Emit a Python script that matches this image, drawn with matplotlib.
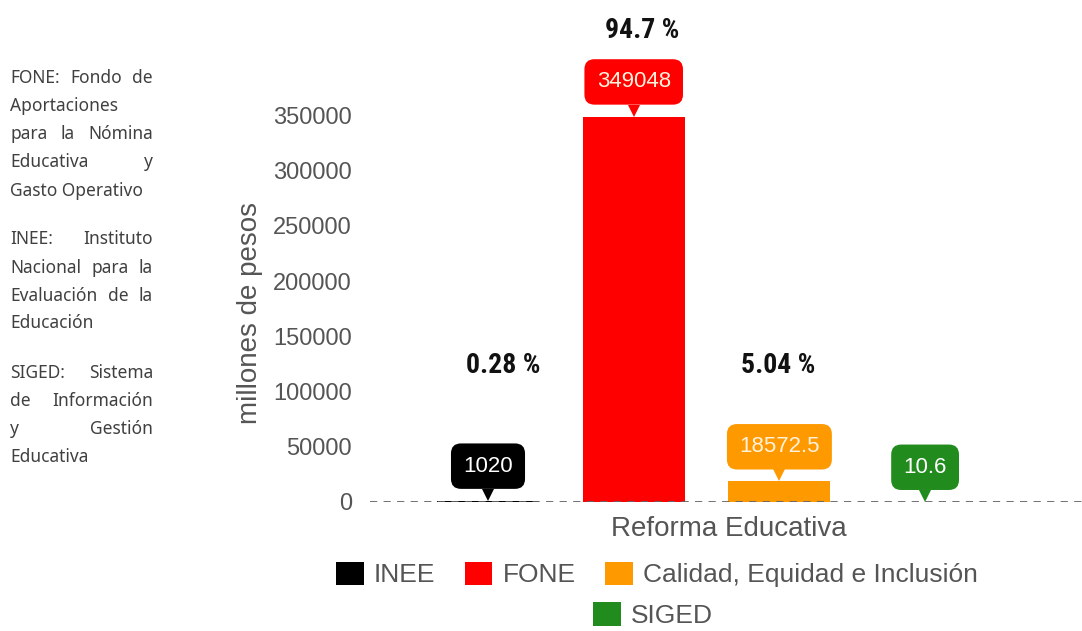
import matplotlib
matplotlib.use("Agg")
import matplotlib.pyplot as plt
import matplotlib.transforms as mtransforms

# ---------------- data ----------------
group = "Reforma Educativa"
categories = ["INEE", "FONE", "Calidad, Equidad e Inclusión", "SIGED"]
values = [1020, 349048, 18572.5, 10.6]
value_labels = ["1020", "349048", "18572.5", "10.6"]
colors = ["#000000", "#ff0000", "#ff9900", "#228b1e"]
label_text_colors = ["#ffffff", "#fff2dc", "#fff2dc", "#ffffff"]
pct_labels = ["0.28 %", "94.7 %", "5.04 %"]
yticks = [0, 50000, 100000, 150000, 200000, 250000, 300000, 350000]
ylabel = "millones de pesos"
notes = [
    [["FONE: Fondo de", True], ["Aportaciones", False], ["para la Nómina", True],
     ["Educativa y", True], ["Gasto Operativo", False]],
    [["INEE: Instituto", True], ["Nacional para la", True], ["Evaluación de la", True],
     ["Educación", False]],
    [["SIGED: Sistema", True], ["de Información", True], ["y Gestión", True],
     ["Educativa", False]],
]

# ---------------- layout ----------------
W, H = 1082, 631
plt.rcParams['font.family'] = ['Liberation Sans', 'DejaVu Sans']
fig = plt.figure(figsize=(W / 100, H / 100), dpi=100)
fig.patch.set_facecolor("white")

ax_left_px, ax_right_px, ax_top_px, ax_bot_px = 370, 1082, 10, 502
ax = fig.add_axes([ax_left_px / W, 1 - ax_bot_px / H,
                   (ax_right_px - ax_left_px) / W, (ax_bot_px - ax_top_px) / H])
px_per_unit_x = 145.7
x0_px = 488
px_per_50k = 55.2
ax.set_xlim((ax_left_px - x0_px) / px_per_unit_x, (ax_right_px - x0_px) / px_per_unit_x)
ax.set_ylim(0, (ax_bot_px - ax_top_px) / px_per_50k * 50000)

xs = list(range(len(categories)))
bar_w = 0.70
for x, v, c, cat in zip(xs, values, colors, categories):
    ax.bar(x, v, width=bar_w, color=c, label=cat, zorder=2)

ax.axhline(0, color="#666666", lw=1.3, ls=(0, (4, 3.5)), zorder=3)

for s in ax.spines.values():
    s.set_visible(False)
ax.set_xticks([])
ax.set_yticks(yticks)
ax.set_yticklabels([str(t) for t in yticks])
ax.tick_params(axis="y", length=0, pad=13, labelsize=17, labelcolor="#555555")
ax.set_ylabel(ylabel, fontsize=20, color="#555555")
ax.yaxis.set_label_coords(-0.150, 0.384)

# value callouts
tri_tr = mtransforms.offset_copy(ax.transData, fig=fig, x=0, y=6, units="dots")
for x, v, lab, c, tc in zip(xs, values, value_labels, colors, label_text_colors):
    ax.annotate(lab, xy=(x, v), xytext=(0, 25), textcoords="offset points",
                ha="center", va="center", fontsize=16, color=tc, zorder=5,
                bbox=dict(boxstyle="round,pad=0.55,rounding_size=0.45", fc=c, ec="none"))
    ax.plot([x], [v], marker="v", markersize=8.6, color=c, markeredgewidth=0,
            transform=tri_tr, zorder=4, clip_on=False)

# percentage labels
pct_pos_px = [(503, 365), (642, 30), (778, 365)]
for lab, (px, py) in zip(pct_labels, pct_pos_px):
    ax.text((px - x0_px) / px_per_unit_x, (ax_bot_px - py) / px_per_50k * 50000, lab,
            ha="center", va="center", fontsize=20, fontweight="bold", color="#111111",
            family=["Roboto Condensed", "Open Sans Condensed", "Liberation Sans Narrow"],
            zorder=5)

# category (x) label
fig.text(729 / W, 1 - 529 / H, group, ha="center", va="center", fontsize=20,
         color="#555555")

# legends
handles, labels = ax.get_legend_handles_labels()
leg_kw = dict(loc="center", bbox_transform=fig.transFigure, frameon=False,
              fontsize=19, labelcolor="#555555", handlelength=1.05, handleheight=1.0,
              handletextpad=0.4, columnspacing=1.1, borderpad=0.2)
leg1 = ax.legend(handles[:3], labels[:3], ncol=3,
                 bbox_to_anchor=(657 / W, 1 - 574.5 / H), **leg_kw)
ax.add_artist(leg1)
ax.legend(handles[3:], labels[3:], ncol=1,
          bbox_to_anchor=(653 / W, 1 - 615 / H), **leg_kw)

# left notes (justified)
renderer = fig.canvas.get_renderer()
note_kw = dict(fontsize=12.5, color="#404040", family=["Noto Sans", "DejaVu Sans"],
               va="center", ha="left")
line_y = [[78, 106, 134, 162, 191], [239, 268, 296, 323], [373, 401, 429, 457]]
tx0, tx1 = 10, 153
for para, ys in zip(notes, line_y):
    for (line, just), y in zip(para, ys):
        words = line.split(" ")
        if not just or len(words) == 1:
            fig.text(tx0 / W, 1 - y / H, line, **note_kw)
            continue
        tt = [fig.text(0, 1 - y / H, w_, **note_kw) for w_ in words]
        widths = [t.get_window_extent(renderer).width for t in tt]
        gap = (tx1 - tx0 - sum(widths)) / (len(words) - 1)
        cx = tx0
        for t, wd in zip(tt, widths):
            t.set_x(cx / W)
            cx += wd + gap

fig.savefig("out.png", dpi=100, facecolor="white")
